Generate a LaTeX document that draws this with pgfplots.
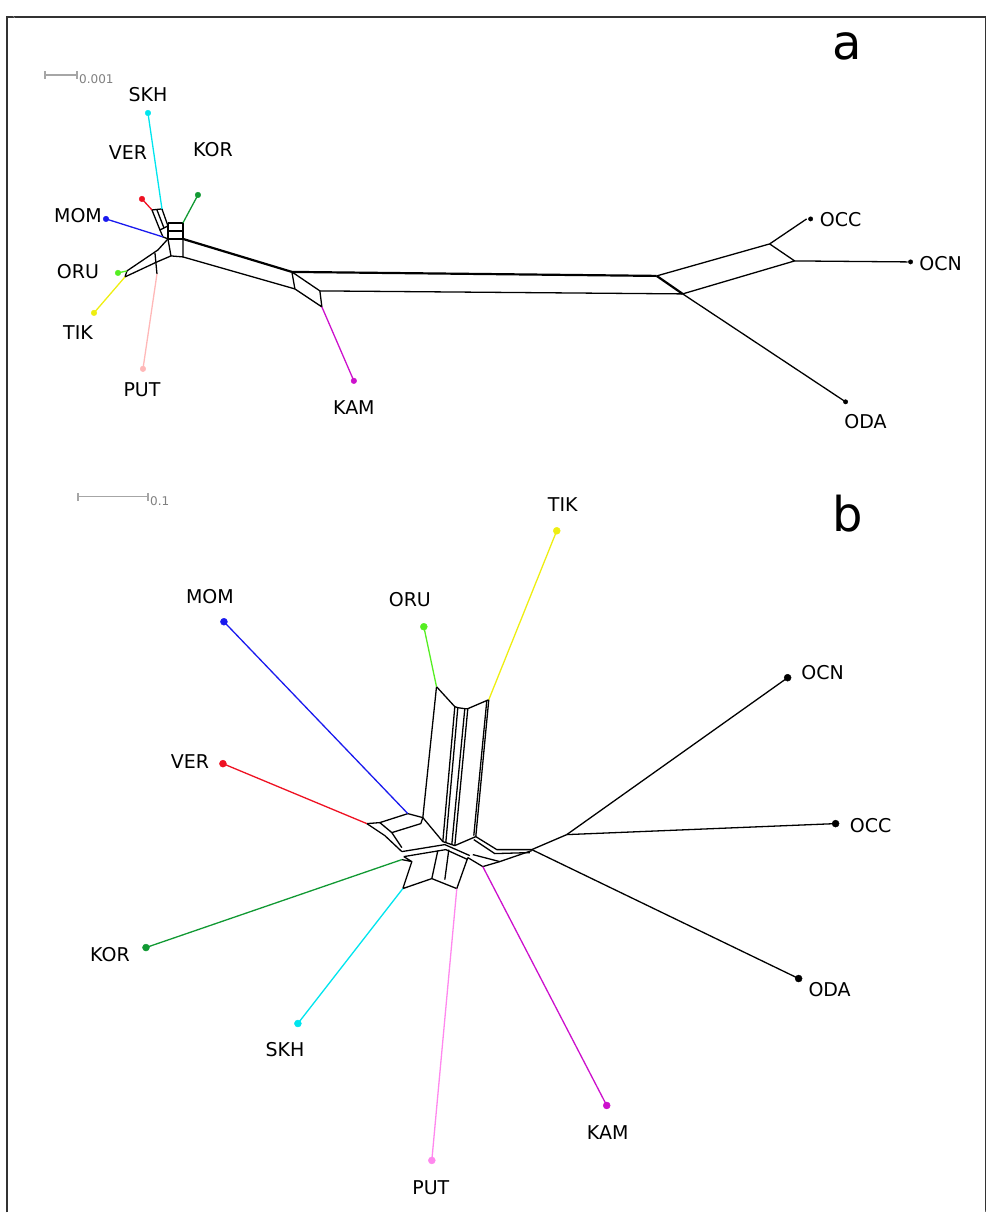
\documentclass[border=0pt]{standalone}
\usepackage{pgfplots}
\pgfplotsset{compat=1.18}
\usepackage{fontspec}
\setmainfont{DejaVu Sans}
\definecolor{cSKH}{HTML}{00E5EE}
\definecolor{cVER}{HTML}{EE1122}
\definecolor{cKOR}{HTML}{119933}
\definecolor{cMOM}{HTML}{1A1AEE}
\definecolor{cORU}{HTML}{55EE22}
\definecolor{cTIK}{HTML}{EEEE11}
\definecolor{cPUTa}{HTML}{FFB8B8}
\definecolor{cPUTb}{HTML}{FF88EE}
\definecolor{cKAM}{HTML}{CC11CC}
\begin{document}
\begin{tikzpicture}[
  net/.style={black, line width=1.3pt, line join=round},
  thk/.style={black, line width=2.2pt, line join=round},
  leaf/.style={line width=1.3pt},
  lab/.style={font=\fontsize{19}{21}\selectfont, text=black},
]
\begin{axis}[
  width=987pt, height=1213pt, scale only axis,
  xmin=0, xmax=987, ymin=0, ymax=1213, y dir=reverse,
  axis lines=none, clip=false,
]
% frame
\addplot[black!80, line width=1.2pt] coordinates {(7,1213) (7,17) (986,17) (986,1213)};
\addplot[white, line width=0.1pt] coordinates {(0,0) (987,1213)};

% ===== panel a =====
\addplot[gray!70, line width=1.2pt] coordinates {(45,75) (77,75)};
\addplot[gray!70, line width=1.2pt] coordinates {(45,71) (45,79)};
\addplot[gray!70, line width=1.2pt] coordinates {(77,71) (77,79)};
\node[anchor=west, text=gray, font=\fontsize{12}{13}\selectfont, inner sep=0pt] at (axis cs:79,79) {0.001};
\node[font=\fontsize{48}{52}\selectfont] at (axis cs:848,46) {a};

% network a
\addplot[net] coordinates {(152,210) (162,209) (168,226) (160,230) (152,210)};
\addplot[net] coordinates {(157,210) (164,228)};
\addplot[net] coordinates {(160,230) (163,237) (168,239)};
\addplot[net] coordinates {(168,223) (183,223) (183,239) (168,239) (168,223)};
\addplot[net] coordinates {(168,231) (183,231)};
\addplot[net] coordinates {(168,239) (171,256) (183,257) (183,239)};
\addplot[net] coordinates {(127,271) (158,250) (168,239)};
\addplot[net] coordinates {(125,277) (157,262) (171,256)};
\addplot[net] coordinates {(155,253) (157,274)};
\addplot[net] coordinates {(127,271) (125,277)};
\addplot[thk] coordinates {(183,239) (292,272)};
\addplot[net] coordinates {(183,257) (295,289)};
\addplot[net] coordinates {(292,272) (295,289) (322,307) (320,291) (292,272)};
\addplot[thk] coordinates {(292,272) (657,276)};
\addplot[net] coordinates {(320,291) (683,294)};
\addplot[thk] coordinates {(657,276) (683,294)};
\addplot[net] coordinates {(657,276) (770,244) (795,261) (683,294)};
\addplot[net] coordinates {(770,244) (807,219)};
\addplot[net] coordinates {(795,261) (908,262)};
\addplot[net] coordinates {(683,294) (846,402)};
% leaves a
\addplot[leaf, cSKH] coordinates {(148,113) (162,209)};
\addplot[leaf, cVER] coordinates {(142,199) (152,210)};
\addplot[leaf, cKOR] coordinates {(198,195) (183,223)};
\addplot[leaf, cMOM] coordinates {(106,219) (163,237)};
\addplot[leaf, cORU] coordinates {(118,273) (127,271)};
\addplot[leaf, cTIK] coordinates {(94,313) (125,277)};
\addplot[leaf, cPUTa] coordinates {(143,369) (157,274)};
\addplot[leaf, cKAM] coordinates {(354,381) (322,307)};
\addplot[only marks, mark=*, mark size=2.8pt, cSKH] coordinates {(148,113)};
\addplot[only marks, mark=*, mark size=2.8pt, cVER] coordinates {(142,199)};
\addplot[only marks, mark=*, mark size=2.8pt, cKOR] coordinates {(198,195)};
\addplot[only marks, mark=*, mark size=2.8pt, cMOM] coordinates {(106,219)};
\addplot[only marks, mark=*, mark size=2.8pt, cORU] coordinates {(118,273)};
\addplot[only marks, mark=*, mark size=2.8pt, cTIK] coordinates {(94,313)};
\addplot[only marks, mark=*, mark size=2.8pt, cPUTa] coordinates {(143,369)};
\addplot[only marks, mark=*, mark size=2.8pt, cKAM] coordinates {(354,381)};
\addplot[only marks, mark=*, mark size=2.2pt, black] coordinates {(811,219) (911,262) (846,402)};
\node[lab] at (axis cs:148,95) {SKH};
\node[lab] at (axis cs:128,153) {VER};
\node[lab] at (axis cs:213,150) {KOR};
\node[lab] at (axis cs:78,216) {MOM};
\node[lab] at (axis cs:78,272) {ORU};
\node[lab] at (axis cs:78,333) {TIK};
\node[lab] at (axis cs:142,390) {PUT};
\node[lab] at (axis cs:354,408) {KAM};
\node[lab] at (axis cs:841,220) {OCC};
\node[lab] at (axis cs:941,264) {OCN};
\node[lab] at (axis cs:866,422) {ODA};

% ===== panel b =====
\addplot[gray!70, line width=1.2pt] coordinates {(78,497) (148,497)};
\addplot[gray!70, line width=1.2pt] coordinates {(78,493) (78,501)};
\addplot[gray!70, line width=1.2pt] coordinates {(148,493) (148,501)};
\node[anchor=west, text=gray, font=\fontsize{12}{13}\selectfont, inner sep=0pt] at (axis cs:150,501) {0.1};
\node[font=\fontsize{48}{52}\selectfont] at (axis cs:848,514) {b};

% network b
\addplot[net] coordinates {(436.7,687) (455,707) (458,708) (465,709) (468,709) (489,700)};
\addplot[net] coordinates {(436.7,687) (423,818)};
\addplot[net] coordinates {(455,707) (443,842)};
\addplot[net] coordinates {(458,708) (446,843)};
\addplot[net] coordinates {(465,709) (452,845)};
\addplot[net] coordinates {(468,709) (455,846)};
\addplot[net] coordinates {(489,700) (476,837)};
\addplot[net] coordinates {(487,701) (474,836)};
\addplot[net] coordinates {(408,814) (423,818) (443,842) (455,846) (476,837)};
\addplot[net] coordinates {(476,837) (497,850) (532,850) (567,835)};
\addplot[net] coordinates {(474,840) (495,854) (530,853)};
\addplot[net] coordinates {(567,835) (788,678)};
\addplot[net] coordinates {(567,835) (836,824)};
\addplot[net] coordinates {(532,850) (799,979)};
\addplot[net] coordinates {(468,858) (483,867) (500,862) (532,851)};
\addplot[net] coordinates {(473,855) (500,862)};
\addplot[net] coordinates {(367,824) (380,823) (408,814)};
\addplot[net] coordinates {(380,823) (392,833) (421,824) (423,818)};
\addplot[net] coordinates {(367,824) (385,836) (402,852)};
\addplot[net] coordinates {(392,833) (402,848)};
\addplot[net] coordinates {(402,852) (445,845) (470,856)};
\addplot[net] coordinates {(404,857) (446,850) (468,860)};
\addplot[net] coordinates {(402,860) (412,862) (404,857)};
\addplot[net] coordinates {(412,862) (403,889) (432,879) (457,889) (468,858)};
\addplot[net] coordinates {(432,879) (438,851)};
\addplot[net] coordinates {(445,880) (449,850)};
% leaves b
\addplot[leaf, cORU] coordinates {(424,627) (436.7,687)};
\addplot[leaf, cTIK] coordinates {(557,531) (489,700)};
\addplot[leaf, cMOM] coordinates {(224,622) (408,814)};
\addplot[leaf, cVER] coordinates {(223,764) (367,824)};
\addplot[leaf, cKOR] coordinates {(146,948) (402,860)};
\addplot[leaf, cSKH] coordinates {(298,1024) (403,889)};
\addplot[leaf, cPUTb] coordinates {(432,1161) (457,889)};
\addplot[leaf, cKAM] coordinates {(607,1106) (483,867)};
\addplot[only marks, mark=*, mark size=3.5pt, cORU] coordinates {(424,627)};
\addplot[only marks, mark=*, mark size=3.5pt, cTIK] coordinates {(557,531)};
\addplot[only marks, mark=*, mark size=3.5pt, cMOM] coordinates {(224,622)};
\addplot[only marks, mark=*, mark size=3.5pt, cVER] coordinates {(223,764)};
\addplot[only marks, mark=*, mark size=3.5pt, cKOR] coordinates {(146,948)};
\addplot[only marks, mark=*, mark size=3.5pt, cSKH] coordinates {(298,1024)};
\addplot[only marks, mark=*, mark size=3.5pt, cPUTb] coordinates {(432,1161)};
\addplot[only marks, mark=*, mark size=3.5pt, cKAM] coordinates {(607,1106)};
\addplot[only marks, mark=*, mark size=3.5pt, black] coordinates {(788,678) (836,824) (799,979)};
\node[lab] at (axis cs:210,597) {MOM};
\node[lab] at (axis cs:410,600) {ORU};
\node[lab] at (axis cs:563,505) {TIK};
\node[lab] at (axis cs:823,673) {OCN};
\node[lab] at (axis cs:190,762) {VER};
\node[lab] at (axis cs:871,826) {OCC};
\node[lab] at (axis cs:110,955) {KOR};
\node[lab] at (axis cs:285,1050) {SKH};
\node[lab] at (axis cs:830,990) {ODA};
\node[lab] at (axis cs:608,1133) {KAM};
\node[lab] at (axis cs:431,1188) {PUT};
\end{axis}
\end{tikzpicture}
\end{document}
